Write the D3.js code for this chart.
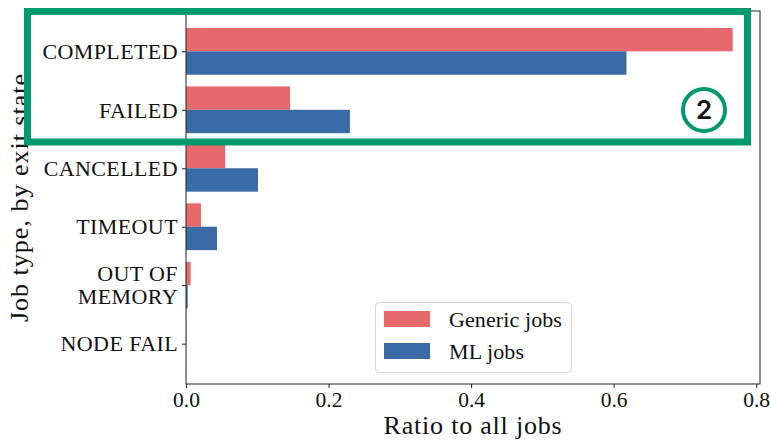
<!DOCTYPE html>
<html>
<head>
<meta charset="utf-8">
<script src="https://cdn.jsdelivr.net/npm/d3@7"></script>
<style>
  html, body { margin: 0; padding: 0; background: #fff; }
  svg text { font-family: "Liberation Serif", "Times New Roman", serif; fill: #111; }
</style>
</head>
<body>
<svg id="chart" width="771" height="440"></svg>
<script>
// Exit states, top to bottom
const categories = ["COMPLETED", "FAILED", "CANCELLED", "TIMEOUT", "OUT OF\nMEMORY", "NODE FAIL"];
// Share of all jobs ending in each state
const genericJobs = [0.767, 0.146, 0.055, 0.021, 0.0065, 0.0004];
const mlJobs      = [0.618, 0.230, 0.101, 0.0435, 0.0024, 0.0002];
const seriesNames = ["Generic jobs", "ML jobs"];
const seriesColors = ["#e8696c", "#396ca6"];
const xTicks = [0.0, 0.2, 0.4, 0.6, 0.8];

const svg = d3.select("#chart");
const plotL = 186, plotR = 760, plotT = 11, plotB = 384;
const barH = 0.4;

const xMax = d3.max(genericJobs.concat(mlJobs)) * 1.05;
const x = d3.scaleLinear().domain([0, xMax]).range([plotL, plotR]);
const pad = (categories.length - 1 + 2 * barH) * 0.05;
const y = d3.scaleLinear().domain([-barH - pad, categories.length - 1 + barH + pad]).range([plotT, plotB]);

// Bars: generic above each category tick, ML below
const series = [genericJobs, mlJobs];
series.forEach((vals, s) => {
  svg.append("g").selectAll("rect").data(vals).join("rect")
    .attr("x", x(0))
    .attr("y", (d, i) => y(i - barH + s * barH))
    .attr("width", d => x(d) - x(0))
    .attr("height", y(barH) - y(0))
    .attr("fill", seriesColors[s]);
});

// Frame
svg.append("rect")
  .attr("x", plotL).attr("y", plotT)
  .attr("width", plotR - plotL).attr("height", plotB - plotT)
  .attr("fill", "none").attr("stroke", "#222").attr("stroke-width", 1);

// X axis
const xAxis = svg.append("g")
  .attr("transform", `translate(0,${plotB})`)
  .call(d3.axisBottom(x).tickValues(xTicks).tickFormat(d3.format(".1f")).tickSize(4).tickPadding(4));
xAxis.select(".domain").remove();
xAxis.selectAll("line").attr("stroke", "#222");
xAxis.selectAll("text")
  .style("font-family", "Liberation Serif, serif")
  .style("font-size", "21.5px")
  .attr("fill", "#111");

// Y axis
const yAxis = svg.append("g")
  .attr("transform", `translate(${plotL},0)`)
  .call(d3.axisLeft(y).tickValues(d3.range(categories.length)).tickFormat("").tickSize(4));
yAxis.select(".domain").remove();
yAxis.selectAll("line").attr("stroke", "#222");

// Category labels; multi-line names get one text element per line
const lh = 23;
categories.forEach((c, i) => {
  const lines = c.split("\n");
  lines.forEach((ln, k) => {
    svg.append("text")
      .attr("text-anchor", "end")
      .style("font-size", "22px")
      .style("letter-spacing", "0.4px")
      .attr("x", plotL - 8)
      .attr("y", y(i) + (k - (lines.length - 1) / 2) * lh)
      .attr("dy", "0.35em")
      .text(ln);
  });
});

// Axis titles
svg.append("text")
  .attr("x", (plotL + plotR) / 2).attr("y", 434)
  .attr("text-anchor", "middle")
  .style("font-size", "26px")
  .style("letter-spacing", "0.8px")
  .text("Ratio to all jobs");

svg.append("text")
  .attr("transform", `translate(27.5,${(plotT + plotB) / 2}) rotate(-90)`)
  .attr("text-anchor", "middle")
  .style("font-size", "26px")
  .style("letter-spacing", "1px")
  .text("Job type, by exit state");

// Legend
const lg = svg.append("g");
lg.append("rect")
  .attr("x", 375.5).attr("y", 302.5).attr("width", 196).attr("height", 70)
  .attr("rx", 4).attr("fill", "#fff").attr("fill-opacity", 0.85)
  .attr("stroke", "#d8d8d8");
seriesNames.forEach((n, s) => {
  lg.append("rect")
    .attr("x", 384).attr("y", 311 + s * 32).attr("width", 46).attr("height", 16)
    .attr("fill", seriesColors[s]);
  lg.append("text")
    .attr("x", 449).attr("y", 319 + s * 32).attr("dy", "0.35em")
    .style("font-size", "22px")
    .style("letter-spacing", "0.1px")
    .text(n);
});

// Highlight box with marker
const green = "#009a6e";
svg.append("rect")
  .attr("x", 27.5).attr("y", 11.5).attr("width", 720).attr("height", 130.5)
  .attr("fill", "none").attr("stroke", green).attr("stroke-width", 7);
svg.append("circle")
  .attr("cx", 704).attr("cy", 110).attr("r", 21)
  .attr("fill", "none").attr("stroke", green).attr("stroke-width", 4);
svg.append("text")
  .attr("x", 704).attr("y", 110).attr("dy", "0.36em")
  .attr("text-anchor", "middle")
  .style("font-family", "Inter, Roboto, sans-serif")
  .style("font-weight", "600")
  .style("font-size", "26px")
  .attr("fill", green)
  .text("2");
</script>
</body>
</html>
